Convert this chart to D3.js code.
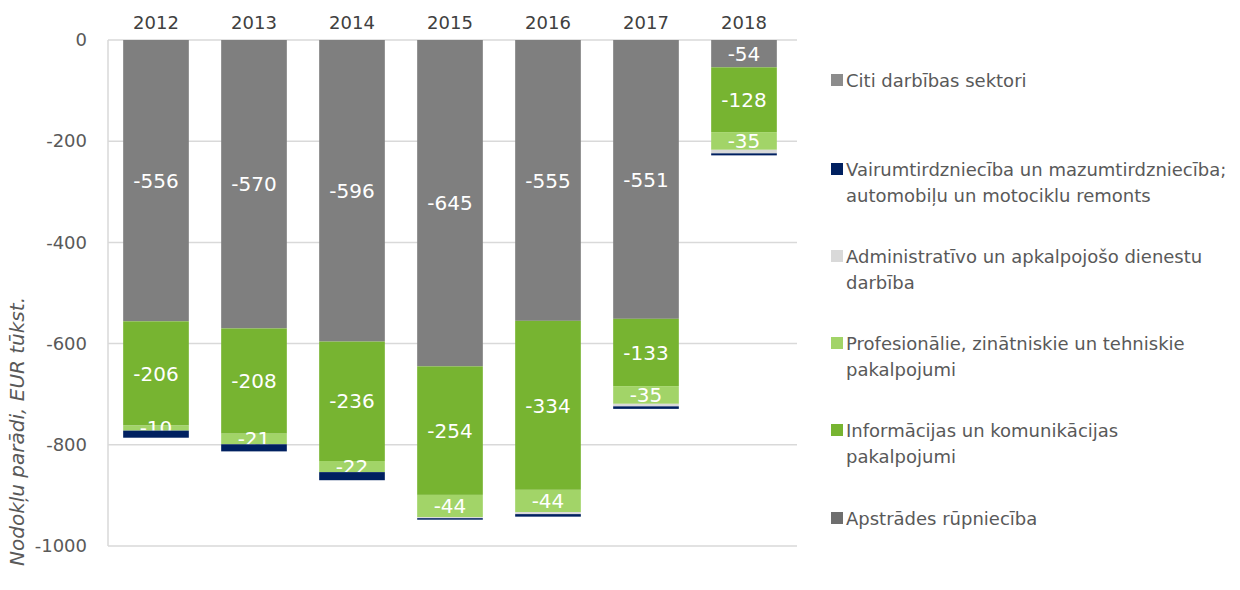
<!DOCTYPE html>
<html>
<head>
<meta charset="utf-8">
<script src="https://cdn.jsdelivr.net/npm/d3@7"></script>
<style>
  body { margin: 0; background: #fff; }
  text { font-family: "DejaVu Sans", Verdana, sans-serif; }
</style>
</head>
<body>
<svg id="chart" width="1240" height="590"></svg>
<script>
var years = ["2012", "2013", "2014", "2015", "2016", "2017", "2018"];
var citi = [-556, -570, -596, -645, -555, -551, -54];
var informacijas = [-206, -208, -236, -254, -334, -133, -128];
var profesionalie = [-10, -21, -22, -44, -44, -35, -35];
var administrativo = [0, 0, 0, -2, -4, -5, -7];
var vairumtirdz = [-14, -14, -16, -3, -5, -5, -4];
var apstrades = [0, 0, 0, 0, 0, 0, 0];
var yTicks = [0, -200, -400, -600, -800, -1000];

// stacking order from zero downward
var series = [
    { name: "Citi darbības sektori", values: citi, color: "#7f7f7f", label: true },
    { name: "Informācijas un komunikācijas pakalpojumi", values: informacijas, color: "#77b431", label: true },
    { name: "Profesionālie, zinātniskie un tehniskie pakalpojumi", values: profesionalie, color: "#a2d468", label: true },
    { name: "Administratīvo un apkalpojošo dienestu darbība", values: administrativo, color: "#d9d9d9", label: false },
    { name: "Vairumtirdzniecība un mazumtirdzniecība; automobiļu un motociklu remonts", values: vairumtirdz, color: "#002060", label: false },
    { name: "Apstrādes rūpniecība", values: apstrades, color: "#6e6e6e", label: false }
];

var legendItems = [
    { lines: ["Citi darbības sektori"], color: "#8c8c8c", y: 80 },
    { lines: ["Vairumtirdzniecība un mazumtirdzniecība;", "automobiļu un motociklu remonts"], color: "#002060", y: 169 },
    { lines: ["Administratīvo un apkalpojošo dienestu", "darbība"], color: "#d9d9d9", y: 256 },
    { lines: ["Profesionālie, zinātniskie un tehniskie", "pakalpojumi"], color: "#a2d468", y: 343 },
    { lines: ["Informācijas un komunikācijas", "pakalpojumi"], color: "#77b431", y: 430 },
    { lines: ["Apstrādes rūpniecība"], color: "#6e6e6e", y: 518 }
];

var svg = d3.select("#chart");

var x = d3.scaleBand()
    .domain(years)
    .range([107, 793])
    .paddingInner(0.33)
    .paddingOuter(0.165);

var y = d3.scaleLinear()
    .domain([-1000, 0])
    .range([546, 40]);

// gridlines
svg.append("g")
    .selectAll("line")
    .data(yTicks)
    .enter().append("line")
    .attr("x1", 108)
    .attr("x2", 797)
    .attr("y1", function(d) { return y(d); })
    .attr("y2", function(d) { return y(d); })
    .attr("stroke", "#d9d9d9")
    .attr("stroke-width", 1.5);

// vertical axis line
svg.append("line")
    .attr("x1", 108).attr("x2", 108)
    .attr("y1", y(0)).attr("y2", y(-1000))
    .attr("stroke", "#d9d9d9")
    .attr("stroke-width", 1.5);

var yAxis = d3.axisLeft(y)
    .tickValues(yTicks)
    .tickSize(0)
    .tickPadding(0)
    .tickFormat(function(d) { return String(d); });

var gy = svg.append("g")
    .attr("transform", "translate(87,0)")
    .call(yAxis);
gy.select(".domain").remove();
gy.selectAll("text")
    .attr("fill", "#595959")
    .style("font-size", "18px")
    .style("font-family", "'DejaVu Sans', Verdana, sans-serif");

// year labels on top
svg.append("g")
    .selectAll("text")
    .data(years)
    .enter().append("text")
    .attr("x", function(d) { return x(d) + x.bandwidth() / 2; })
    .attr("y", 29)
    .attr("text-anchor", "middle")
    .attr("fill", "#404040")
    .style("font-size", "18px")
    .text(function(d) { return d; });

// stacked bars
years.forEach(function(year, i) {
    var base = 0;
    series.forEach(function(s) {
        var v = s.values[i];
        var top = base;
        var bottom = base + v;
        base = bottom;
        if (v === 0) return;
        svg.append("rect")
            .attr("x", x(year))
            .attr("width", x.bandwidth())
            .attr("y", y(top))
            .attr("height", y(bottom) - y(top))
            .attr("fill", s.color);
        if (s.label) {
            svg.append("text")
                .attr("x", x(year) + x.bandwidth() / 2)
                .attr("y", (y(top) + y(bottom)) / 2)
                .attr("dy", "0.36em")
                .attr("text-anchor", "middle")
                .attr("fill", "#ffffff")
                .style("font-size", "20px")
                .text(v);
        }
    });
});

// y axis title
svg.append("text")
    .attr("transform", "translate(24,297) rotate(-90)")
    .attr("text-anchor", "end")
    .attr("fill", "#595959")
    .style("font-size", "20px")
    .style("font-style", "italic")
    .text("Nodokļu parādi, EUR  tūkst.");

// legend
var legend = svg.append("g")
    .selectAll("g")
    .data(legendItems)
    .enter().append("g")
    .attr("transform", function(d) { return "translate(831," + d.y + ")"; });

legend.append("rect")
    .attr("x", 0)
    .attr("y", -6)
    .attr("width", 12)
    .attr("height", 12)
    .attr("fill", function(d) { return d.color; });

legend.each(function(d) {
    var g = d3.select(this);
    d.lines.forEach(function(line, k) {
        g.append("text")
            .attr("x", 15)
            .attr("y", 7 + k * 26)
            .attr("fill", "#595959")
            .style("font-size", "18px")
            .text(line);
    });
});
</script>
</body>
</html>
